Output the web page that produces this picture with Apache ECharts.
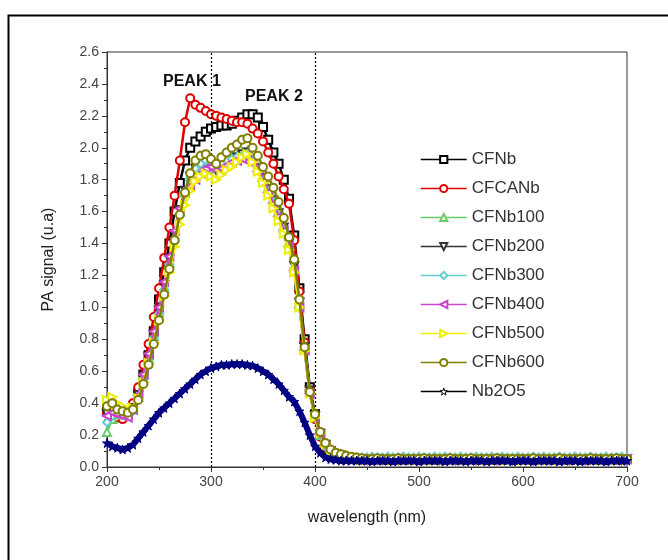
<!DOCTYPE html>
<html>
<head>
<meta charset="utf-8">
<script src="https://cdn.jsdelivr.net/npm/echarts@6/dist/echarts.min.js"></script>
<style>
  html, body { margin: 0; padding: 0; background: #fff; }
  #main { width: 668px; height: 560px; }
</style>
</head>
<body>
<div id="main"></div>
<script>
// wavelength grid, 5 nm steps from 200 to 700
var wl = [];
for (var i = 0; i <= 100; i++) wl.push(200 + i * 5);

var names = ['CFNb', 'CFCANb', 'CFNb100', 'CFNb200', 'CFNb300', 'CFNb400', 'CFNb500', 'CFNb600', 'Nb2O5'];

// values, 10 per row (200-245, 250-295, ... 700)
var cfnb = [
  0.36,0.34,0.33,0.32,0.33,0.38,0.46,0.58,0.70,0.85,
  1.05,1.22,1.40,1.60,1.78,1.92,2.00,2.04,2.07,2.10,
  2.12,2.13,2.14,2.14,2.15,2.17,2.19,2.21,2.21,2.19,
  2.13,2.05,1.97,1.90,1.80,1.68,1.45,1.12,0.80,0.50,
  0.33,0.20,0.13,0.10,0.08,0.07,0.06,0.055,0.05,0.05,
  0.05,0.045,0.05,0.045,0.05,0.045,0.05,0.05,0.045,0.05,
  0.045,0.05,0.05,0.045,0.05,0.05,0.045,0.05,0.045,0.05,
  0.05,0.045,0.05,0.05,0.045,0.05,0.045,0.05,0.05,0.045,
  0.05,0.045,0.05,0.045,0.05,0.05,0.045,0.05,0.045,0.05,
  0.045,0.05,0.05,0.045,0.05,0.045,0.05,0.05,0.045,0.05,
  0.05
];
var cfcanb = [
  0.34,0.32,0.31,0.30,0.33,0.40,0.50,0.64,0.77,0.94,
  1.12,1.31,1.50,1.70,1.92,2.16,2.31,2.27,2.25,2.23,
  2.21,2.20,2.19,2.18,2.17,2.16,2.16,2.15,2.12,2.09,
  2.04,1.97,1.90,1.82,1.74,1.65,1.42,1.10,0.78,0.48,
  0.30,0.19,0.12,0.09,0.07,0.06,0.055,0.05,0.05,0.045,
  0.045,0.05,0.045,0.05,0.045,0.05,0.045,0.045,0.05,0.045,
  0.05,0.045,0.045,0.05,0.045,0.05,0.045,0.05,0.045,0.045,
  0.05,0.045,0.05,0.045,0.045,0.05,0.045,0.05,0.045,0.05,
  0.045,0.045,0.05,0.045,0.05,0.045,0.05,0.045,0.05,0.045,
  0.05,0.045,0.045,0.05,0.045,0.05,0.045,0.05,0.045,0.045,
  0.05
];
var cfnb100 = [
  0.22,0.30,0.33,0.33,0.33,0.36,0.44,0.56,0.68,0.82,
  0.97,1.12,1.28,1.44,1.60,1.72,1.82,1.88,1.91,1.92,
  1.90,1.87,1.89,1.91,1.93,1.95,1.97,1.98,1.94,1.88,
  1.82,1.75,1.68,1.60,1.50,1.40,1.25,1.02,0.74,0.47,
  0.31,0.20,0.14,0.10,0.08,0.07,0.06,0.055,0.05,0.05,
  0.05,0.05,0.045,0.05,0.05,0.045,0.05,0.05,0.05,0.045,
  0.05,0.05,0.045,0.05,0.05,0.05,0.045,0.05,0.05,0.045,
  0.05,0.05,0.05,0.045,0.05,0.05,0.045,0.05,0.05,0.05,
  0.045,0.05,0.05,0.05,0.045,0.05,0.05,0.045,0.05,0.05,
  0.05,0.045,0.05,0.05,0.045,0.05,0.05,0.05,0.045,0.05,
  0.05
];
var cfnb200 = [
  0.33,0.36,0.35,0.34,0.34,0.37,0.45,0.57,0.69,0.83,
  0.98,1.14,1.30,1.46,1.61,1.73,1.82,1.87,1.90,1.91,
  1.89,1.86,1.88,1.90,1.92,1.94,1.96,1.97,1.93,1.87,
  1.81,1.74,1.67,1.59,1.50,1.40,1.26,1.03,0.75,0.48,
  0.32,0.21,0.14,0.10,0.08,0.07,0.06,0.055,0.05,0.05,
  0.045,0.05,0.05,0.045,0.05,0.05,0.045,0.05,0.05,0.05,
  0.045,0.05,0.05,0.05,0.045,0.05,0.05,0.045,0.05,0.05,
  0.05,0.045,0.05,0.05,0.05,0.045,0.05,0.05,0.045,0.05,
  0.05,0.05,0.045,0.05,0.05,0.045,0.05,0.05,0.05,0.045,
  0.05,0.05,0.045,0.05,0.05,0.05,0.045,0.05,0.05,0.045,
  0.05
];
var cfnb300 = [
  0.28,0.32,0.34,0.33,0.32,0.35,0.43,0.55,0.67,0.81,
  0.96,1.11,1.27,1.43,1.58,1.71,1.81,1.87,1.90,1.92,
  1.91,1.88,1.90,1.92,1.93,1.94,1.95,1.96,1.92,1.86,
  1.80,1.73,1.66,1.58,1.49,1.39,1.24,1.01,0.74,0.47,
  0.31,0.20,0.13,0.10,0.08,0.07,0.065,0.06,0.06,0.06,
  0.06,0.065,0.06,0.06,0.065,0.06,0.06,0.065,0.06,0.06,
  0.065,0.06,0.06,0.065,0.06,0.065,0.06,0.06,0.065,0.06,
  0.06,0.065,0.06,0.06,0.065,0.06,0.065,0.06,0.06,0.065,
  0.06,0.06,0.065,0.06,0.065,0.06,0.06,0.065,0.06,0.06,
  0.065,0.06,0.06,0.065,0.06,0.06,0.065,0.06,0.06,0.065,
  0.06
];
var cfnb400 = [
  0.32,0.34,0.33,0.32,0.31,0.36,0.45,0.58,0.71,0.85,
  1.00,1.16,1.32,1.48,1.62,1.72,1.76,1.80,1.84,1.87,
  1.88,1.86,1.87,1.89,1.91,1.92,1.93,1.94,1.90,1.85,
  1.79,1.72,1.65,1.57,1.48,1.38,1.23,1.00,0.73,0.46,
  0.30,0.20,0.13,0.10,0.08,0.07,0.06,0.055,0.05,0.05,
  0.05,0.045,0.05,0.05,0.045,0.05,0.05,0.045,0.05,0.05,
  0.045,0.05,0.05,0.045,0.05,0.05,0.05,0.045,0.05,0.05,
  0.045,0.05,0.05,0.05,0.045,0.05,0.05,0.045,0.05,0.05,
  0.05,0.045,0.05,0.05,0.045,0.05,0.05,0.05,0.045,0.05,
  0.05,0.045,0.05,0.05,0.05,0.045,0.05,0.05,0.045,0.05,
  0.05
];
var cfnb500 = [
  0.42,0.44,0.40,0.38,0.36,0.37,0.43,0.53,0.65,0.78,
  0.92,1.07,1.22,1.38,1.52,1.64,1.73,1.79,1.82,1.84,
  1.82,1.80,1.83,1.86,1.88,1.91,1.94,1.96,1.91,1.85,
  1.78,1.70,1.62,1.54,1.46,1.36,1.22,1.00,0.73,0.46,
  0.31,0.21,0.14,0.10,0.085,0.075,0.065,0.06,0.055,0.05,
  0.05,0.05,0.045,0.05,0.05,0.05,0.045,0.05,0.05,0.045,
  0.05,0.05,0.05,0.045,0.05,0.05,0.045,0.05,0.05,0.05,
  0.045,0.05,0.05,0.045,0.05,0.05,0.05,0.045,0.05,0.05,
  0.045,0.05,0.05,0.05,0.045,0.05,0.05,0.045,0.05,0.05,
  0.05,0.045,0.05,0.05,0.045,0.05,0.05,0.05,0.045,0.05,
  0.05
];
var cfnb600 = [
  0.38,0.40,0.36,0.35,0.34,0.36,0.42,0.52,0.64,0.77,
  0.92,1.08,1.24,1.42,1.58,1.72,1.84,1.92,1.95,1.96,
  1.93,1.90,1.94,1.97,2.00,2.02,2.05,2.06,2.00,1.95,
  1.88,1.82,1.75,1.66,1.56,1.44,1.30,1.05,0.75,0.47,
  0.33,0.22,0.15,0.11,0.09,0.08,0.07,0.065,0.06,0.055,
  0.05,0.05,0.055,0.05,0.05,0.05,0.055,0.05,0.05,0.05,
  0.05,0.055,0.05,0.05,0.05,0.05,0.055,0.05,0.05,0.05,
  0.055,0.05,0.05,0.05,0.05,0.055,0.05,0.05,0.05,0.05,
  0.05,0.05,0.055,0.05,0.05,0.05,0.05,0.055,0.05,0.05,
  0.05,0.05,0.05,0.055,0.05,0.05,0.05,0.05,0.055,0.05,
  0.05
];
var nb2o5 = [
  0.15,0.13,0.12,0.11,0.12,0.14,0.18,0.22,0.26,0.30,
  0.34,0.37,0.40,0.43,0.46,0.49,0.52,0.55,0.58,0.60,
  0.62,0.63,0.64,0.64,0.645,0.645,0.645,0.64,0.635,0.62,
  0.60,0.58,0.55,0.52,0.48,0.44,0.41,0.35,0.28,0.20,
  0.13,0.09,0.06,0.05,0.045,0.04,0.04,0.04,0.04,0.04,
  0.04,0.035,0.04,0.04,0.04,0.035,0.04,0.04,0.04,0.04,
  0.035,0.04,0.04,0.04,0.04,0.035,0.04,0.04,0.04,0.035,
  0.04,0.04,0.04,0.035,0.04,0.04,0.04,0.04,0.035,0.04,
  0.04,0.04,0.035,0.04,0.04,0.04,0.04,0.035,0.04,0.04,
  0.04,0.035,0.04,0.04,0.04,0.04,0.035,0.04,0.04,0.04,
  0.04
];

var values = [cfnb, cfcanb, cfnb100, cfnb200, cfnb300, cfnb400, cfnb500, cfnb600, nb2o5];
var colors = ['#000000', '#e00000', '#66cc66', '#333333', '#66cccc', '#cc44cc', '#eeee00', '#808000', '#000080'];
var symbols = ['emptyRect', 'emptyCircle', 'emptyTriangle', 'emptyTriangle', 'emptyDiamond', 'emptyTriangle', 'emptyTriangle', 'emptyCircle',
  'path://M50,0 L61,35 L98,35 L68,57 L79,91 L50,70 L21,91 L32,57 L2,35 L39,35 Z'];
var rotates = [0, 0, 0, 180, 0, 90, -90, 0, 0];

var peakLabels = ['PEAK 1', 'PEAK 2'];
var guideLines = [300, 400];

var myChart = echarts.init(document.getElementById('main'));

var series = names.map(function (n, k) {
  var pts = wl.map(function (x, i) { return [x, values[k][i]]; });
  var s = {
    name: n,
    type: 'line',
    data: pts,
    symbol: symbols[k],
    symbolSize: 8,
    symbolRotate: rotates[k],
    showAllSymbol: true,
    itemStyle: { color: colors[k], borderWidth: 1.5 },
    lineStyle: { color: colors[k], width: 2.5 },
    z: 2 + k
  };
  if (k === 8) {
    s.symbolSize = 9;
    s.itemStyle = { color: '#000080', borderColor: '#000080', borderWidth: 1 };
    s.lineStyle = { color: '#000080', width: 6 };
    s.markLine = {//虚线 300 / 400 nm
      silent: true,
      symbol: 'none',
      label: { show: false },
      lineStyle: { color: '#000', type: [2, 2], width: 1.2 },
      data: guideLines.map(function (v) { return { xAxis: v }; })
    };
  }
  return s;
});

var legendData = names.map(function (n, k) {
  var d = { name: n, itemStyle: { borderWidth: 1 }, lineStyle: { width: 1.5 } };
  if (k === 8) {
    d.itemStyle = { color: '#fff', borderColor: '#000', borderWidth: 1 };
    d.lineStyle = { color: '#000', width: 1.5 };
  }
  return d;
});

var option = {
  animation: false,
  backgroundColor: '#fff',
  grid: {
    left: 107, right: 41, top: 52, bottom: 93,
    show: true, borderColor: '#333', borderWidth: 1
  },
  legend: {
    orient: 'vertical',
    left: 415,
    top: 146,
    itemWidth: 46,
    itemHeight: 9,
    itemGap: 12,
    data: legendData,
    textStyle: { fontSize: 17, color: '#333', fontFamily: 'Liberation Sans, Arial, sans-serif' }
  },
  xAxis: {
    type: 'value',
    min: 200, max: 700, interval: 100,
    name: 'wavelength (nm)',
    nameLocation: 'middle',
    nameGap: 43,
    nameTextStyle: { fontSize: 16, color: '#222', fontFamily: 'Liberation Sans, Arial, sans-serif' },
    axisLine: { lineStyle: { color: '#333' } },
    axisTick: { length: 5, lineStyle: { color: '#333' } },
    minorTick: { show: true, splitNumber: 2, length: 3, lineStyle: { color: '#333' } },
    splitLine: { show: false },
    axisLabel: { fontSize: 14, color: '#444', margin: 8, fontFamily: 'Liberation Sans, Arial, sans-serif' }
  },
  yAxis: {
    type: 'value',
    min: 0, max: 2.6, interval: 0.2,
    name: 'PA signal (u.a)',
    nameLocation: 'middle',
    nameGap: 50,
    nameTextStyle: { fontSize: 16, color: '#222', fontFamily: 'Liberation Sans, Arial, sans-serif' },
    axisLine: { show: true, lineStyle: { color: '#333' } },
    axisTick: { show: true, length: 5, lineStyle: { color: '#333' } },
    minorTick: { show: true, splitNumber: 2, length: 3, lineStyle: { color: '#333' } },
    splitLine: { show: false },
    axisLabel: {
      fontSize: 14, color: '#444', margin: 8, fontFamily: 'Liberation Sans, Arial, sans-serif',
      formatter: function (v) { return v.toFixed(1); }
    }
  },
  graphic: [
    {//外框
      type: 'rect', left: 6, top: 13, z: 100,
      shape: { width: 700, height: 600 },
      style: { fill: 'none', stroke: '#000', lineWidth: 2 }
    },
    {
      type: 'text', left: 163, top: 74, z: 100,
      style: { text: peakLabels[0], font: 'bold 16px Liberation Sans, Arial', fill: '#111' }
    },
    {
      type: 'text', left: 245, top: 89, z: 100,
      style: { text: peakLabels[1], font: 'bold 16px Liberation Sans, Arial', fill: '#111' }
    }
  ],
  series: series
};

myChart.setOption(option);
</script>
</body>
</html>
